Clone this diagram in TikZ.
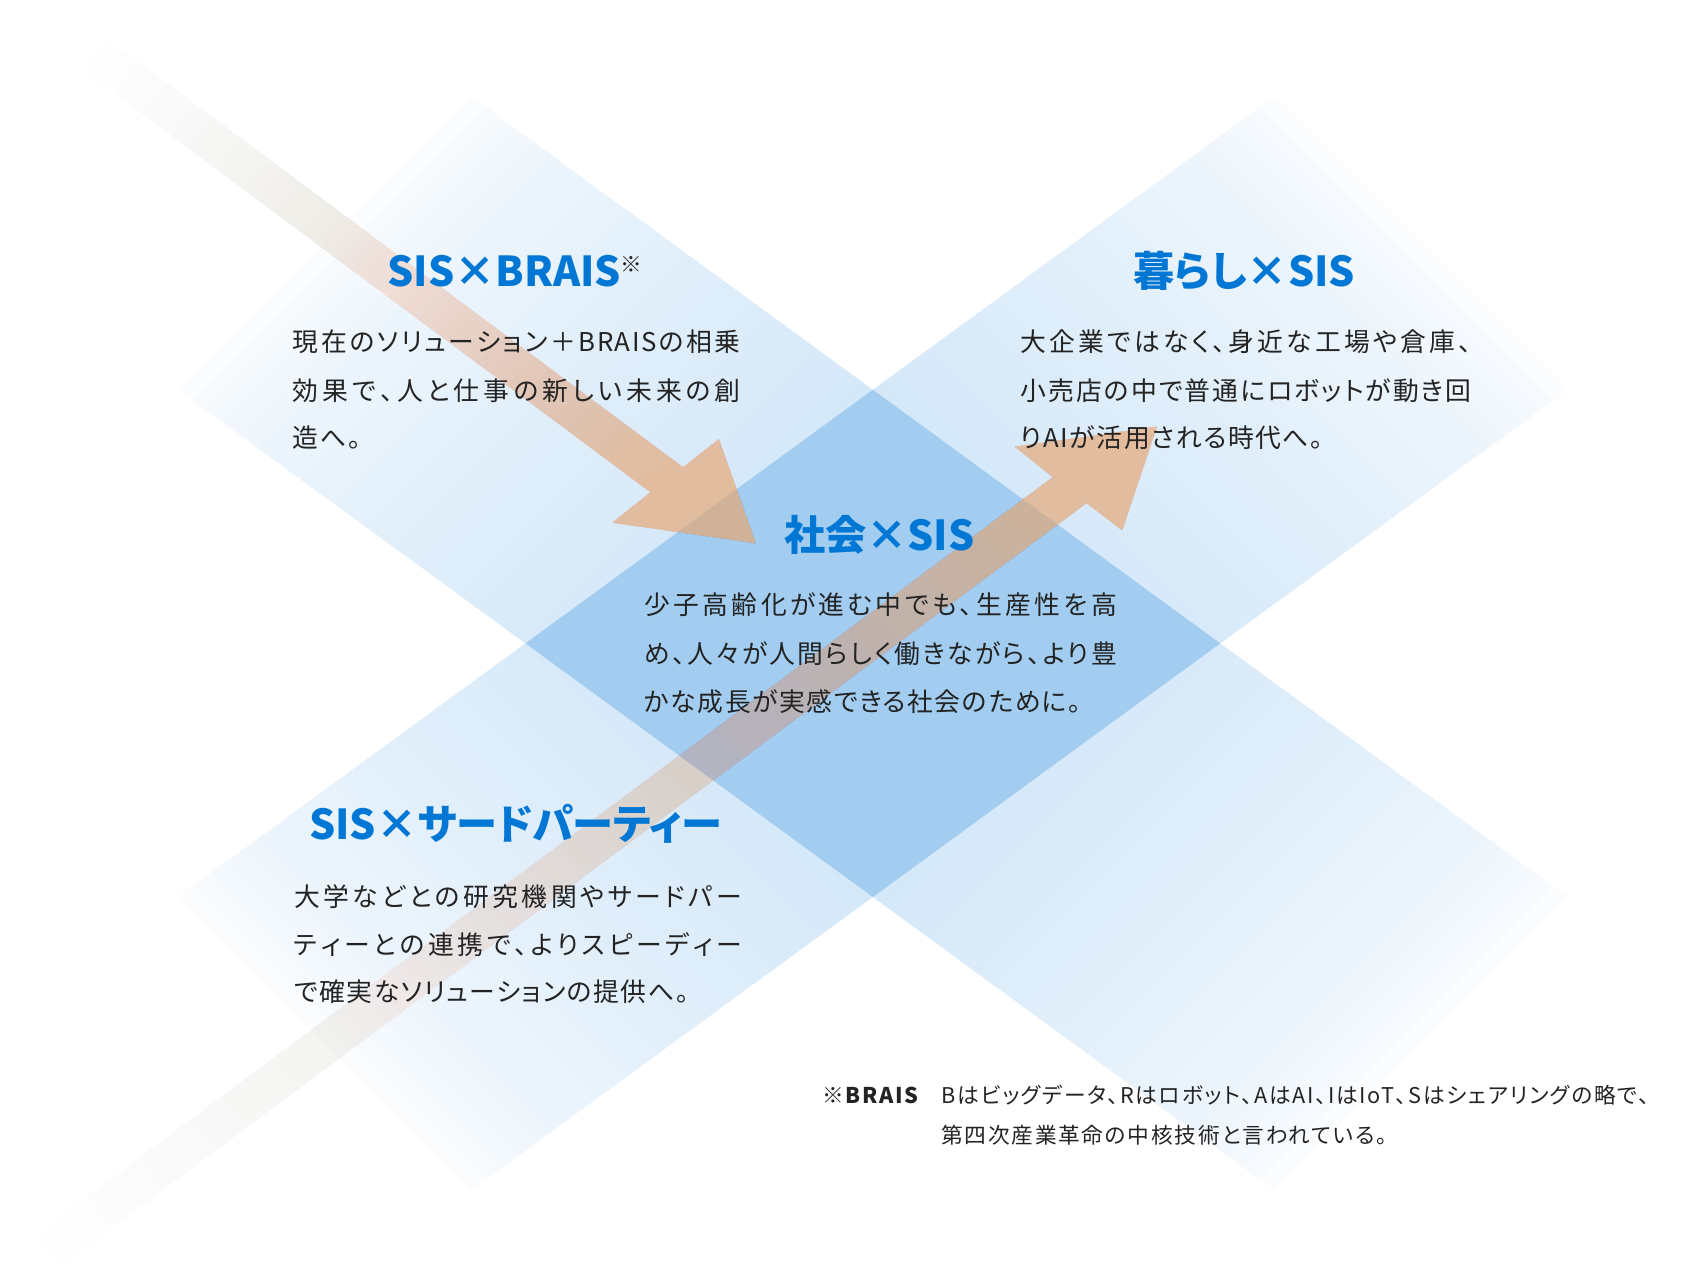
\documentclass[tikz,border=0pt]{standalone}
\usepackage{fontspec}
\setmainfont{Noto Sans CJK JP}[RawFeature={+palt}]
\newfontfamily\jpbody{Noto Sans CJK JP}[RawFeature={+palt}, LetterSpace=6]
\newfontfamily\jpnote{Noto Sans CJK JP}[RawFeature={+palt}, LetterSpace=8]
\newfontfamily\jptitle{Noto Sans CJK JP}[RawFeature={+palt}]
\usetikzlibrary{calc}
\definecolor{bandc}{RGB}{205,228,247}
\definecolor{centerc}{RGB}{162,205,240}
\definecolor{arrowc}{RGB}{239,178,130}
\definecolor{titlec}{RGB}{0,119,212}
\definecolor{textc}{RGB}{35,35,35}
% justified line: spread the characters evenly over the given width
\def\jspEndMark{\jspEnd}
\def\jspA#1{#1\jspB}
\def\jspB#1{\def\jsptmp{#1}\ifx\jsptmp\jspEndMark\else\hskip0pt plus 1fil\relax#1\expandafter\jspB\fi}
\newcommand\jline[2]{\hbox to #1{\jspA#2\jspEnd}}
\tikzset{
  body/.style={font=\jpbody\fontsize{23.8}{23.8}\selectfont, text=textc, inner sep=0pt, anchor=base west},
  title/.style={font=\jptitle\bfseries\fontsize{38}{38}\selectfont, text=titlec, inner sep=0pt, anchor=base},
  note/.style={font=\jpnote\fontsize{20}{20}\selectfont, text=textc, inner sep=0pt, anchor=base west},
}
\begin{document}
\begin{tikzpicture}[x=1pt,y=-1pt]
\useasboundingbox (0,0) rectangle (1566,1185);
\fill[white] (0,0) rectangle (1566,1185);
% band corners
\coordinate (A1) at (434.2,88.8);
\coordinate (A2) at (1445.2,826.8);
\coordinate (A3) at (1174.8,1097.2);
\coordinate (A4) at (163.8,359.2);
\coordinate (B1) at (1175.8,88.8);
\coordinate (B2) at (1446.2,359.2);
\coordinate (B3) at (435.2,1097.2);
\coordinate (B4) at (164.8,826.8);
% band A (upper-left to lower-right)
\begin{scope}
  \clip (A1) -- (A2) -- (A3) -- (A4) -- cycle;
  \foreach \k in {0,...,69}{
    \pgfmathsetmacro\sa{523+\k*25}
    \pgfmathsetmacro\sb{\sa+27}
    \pgfmathsetmacro\pc{100*(max(0.001,1-abs(\sa+12.5-1397.5)/874.5))^0.55}
    \fill[bandc!\pc!white] (\sa+300,-300) -- (\sa-2000,2000) -- (\sb-2000,2000) -- (\sb+300,-300) -- cycle;
  }
\end{scope}
% band B (lower-left to upper-right)
\begin{scope}
  \clip (B1) -- (B2) -- (B3) -- (B4) -- cycle;
  \foreach \k in {0,...,69}{
    \pgfmathsetmacro\sa{-662+\k*25}
    \pgfmathsetmacro\sb{\sa+27}
    \pgfmathsetmacro\pc{100*(max(0.001,1-abs(\sa+12.5-212.5)/874.5))^0.55}
    \fill[bandc!\pc!white] (\sa-300,-300) -- (\sa+2000,2000) -- (\sb+2000,2000) -- (\sb-300,-300) -- cycle;
  }
\end{scope}
% centre diamond
\coordinate (Ct) at (intersection of A1--A2 and B1--B4);
\coordinate (Cr) at (intersection of A1--A2 and B2--B3);
\coordinate (Cb) at (intersection of A4--A3 and B2--B3);
\coordinate (Cl) at (intersection of A4--A3 and B1--B4);
\fill[centerc] (Ct) -- (Cr) -- (Cb) -- (Cl) -- cycle;
% arrow 1 (down-right)
\coordinate (U1) at (85.9,26.1);
\coordinate (L1) at (64.1,55.3);
\coordinate (N1b) at (630,431);
\coordinate (N1a) at (600,454);
\coordinate (H1b) at (663,405);
\coordinate (T1) at (697,501);
\coordinate (H1a) at (565,482);
\foreach \k in {0,...,39}{
  \pgfmathsetmacro\Ak{0.7*((\k+1)/40)^1.7}
  \pgfmathsetmacro\Ap{0.7*((\k+0.001)/40)^1.7}
  \pgfmathsetmacro\al{1-(1-\Ak)/(1-\Ap)}
  \pgfmathsetmacro\tpos{\k/40}
  \fill[arrowc, fill opacity=\al] ($(U1)!\tpos!(N1b)$) -- (N1b) -- (H1b) -- (T1) -- (H1a) -- (N1a) -- ($(L1)!\tpos!(N1a)$) -- cycle;
}
% arrow 2 (up-right)
\coordinate (U2) at (9.1,1156.8);
\coordinate (L2) at (30.9,1186);
\coordinate (N2a) at (971,440);
\coordinate (N2b) at (1002,464);
\coordinate (H2a) at (936,412);
\coordinate (T2) at (1067,393.5);
\coordinate (H2b) at (1035,489);
\foreach \k in {0,...,39}{
  \pgfmathsetmacro\Ak{0.7*((\k+1)/40)^1.7}
  \pgfmathsetmacro\Ap{0.7*((\k+0.001)/40)^1.7}
  \pgfmathsetmacro\al{1-(1-\Ak)/(1-\Ap)}
  \pgfmathsetmacro\tpos{\k/40}
  \fill[arrowc, fill opacity=\al] ($(U2)!\tpos!(N2a)$) -- (N2a) -- (H2a) -- (T2) -- (H2b) -- (N2b) -- ($(L2)!\tpos!(N2b)$) -- cycle;
}
% titles
\node[title] (t1) at (475,264.4) {SIS×BRAIS{\color{textc}\fontsize{20}{20}\selectfont\raisebox{13pt}{※}}};
\node[title] (t2) at (1147.5,264.4) {暮らし×SIS};
\node[title] (t3) at (811,507.7) {社会×SIS};
\node[title] (t4) at (475.5,773.8) {SIS×サードパーティー};
% block 1
\node[body] (b1a) at (270,324) {\jline{413pt}{現在のソリューション＋{BRAIS}の相乗}};
\node[body] (b1b) at (270,369) {\jline{413pt}{効果で、人と仕事の新しい未来の創}};
\node[body] (b1c) at (270,413) {造へ。};
% block 2
\node[body] (b2a) at (941,324) {\jline{416pt}{大企業ではなく、身近な工場や倉庫、}};
\node[body] (b2b) at (941,369) {\jline{416pt}{小売店の中で普通にロボットが動き回}};
\node[body] (b2c) at (941,413) {りAIが活用される時代へ。};
% block 3
\node[body] (b3a) at (594,567) {\jline{436pt}{少子高齢化が進む中でも、生産性を高}};
\node[body] (b3b) at (594,612) {\jline{436pt}{め、人々が人間らしく働きながら、より豊}};
\node[body] (b3c) at (594,656) {かな成長が実感できる社会のために。};
% block 4
\node[body] (b4a) at (271,836) {\jline{413pt}{大学などとの研究機関やサードパー}};
\node[body] (b4b) at (271,880) {\jline{413pt}{ティーとの連携で、よりスピーディー}};
\node[body] (b4c) at (271,924) {で確実なソリューションの提供へ。};
% footnote
\node[note, font=\jpnote\bfseries\fontsize{20}{20}\selectfont] (n0) at (758,1018) {※BRAIS};
\node[note] (n1) at (868,1018) {Bはビッグデータ、Rはロボット、AはAI、IはIoT、Sはシェアリングの略で、};
\node[note] (n2) at (868,1055) {第四次産業革命の中核技術と言われている。};
\end{tikzpicture}
\end{document}
